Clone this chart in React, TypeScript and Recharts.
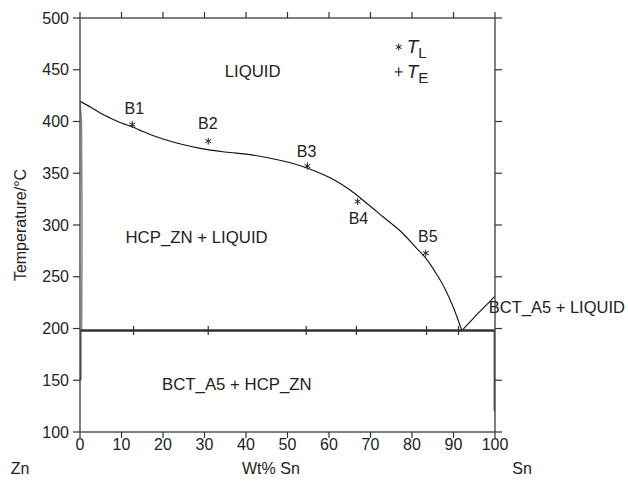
import React from "react";
import {
  ComposedChart,
  Line,
  XAxis,
  YAxis,
  ReferenceDot,
} from "recharts";

// Liquidus (Zn side) from pure Zn to eutectic
const liqZnX = [0, 2.5, 5, 7.5, 10, 12.9, 15, 20, 25, 29, 35, 41, 47, 53.3, 57, 61.3, 65, 69.4, 73, 77.5, 81, 83.5, 86, 88, 90, 92];
const liqZnT = [419.5, 414, 408, 403, 398.5, 394.5, 390.5, 383, 377.5, 374, 370.5, 368, 363.5, 357, 351.5, 343.5, 334, 320, 308, 293, 278, 267, 252, 238, 220, 198];
// Liquidus (Sn side)
const liqSnX = [92, 94, 96, 98, 100];
const liqSnT = [198, 206.5, 215, 223, 231.5];
// Solidus near Zn
const solZnX = [0, 0.35, 0.5, 0.45, 0.4];
const solZnT = [419.5, 400, 300, 250, 198];
const solZnLowX = [0.1, 0.1];
const solZnLowT = [198, 150];
// Eutectic isotherm
const eutX = [0, 100];
const eutT = [198, 198];
// Sn side solvus
const solSnX = [100, 100];
const solSnT = [198, 120];
// Measured liquidus temperatures (T_L)
const tlX = [12.6, 30.9, 54.8, 66.9, 83.3];
const tlT = [397, 381, 357, 322.7, 272.8];
// Measured eutectic temperatures (T_E)
const teX = [12.9, 30.9, 54.5, 66.6, 83.5, 91.2];
const teT = [198, 198, 198, 198, 198, 198];
// Sample labels
const sampleNames = ["B1", "B2", "B3", "B4", "B5"];
const sampleLabelX = [13.1, 30.8, 54.6, 67.1, 83.8];
const sampleLabelT = [413, 398, 371, 306.5, 289];
// Phase region labels
const phaseNames = ["LIQUID", "HCP_ZN + LIQUID", "BCT_A5 + HCP_ZN"];
const phaseX = [41.6, 28.1, 37.8];
const phaseT = [448, 288, 145.5];
const sideLabel = "BCT_A5 + LIQUID";
const sideX = 98.5;
const sideT = 221;
// Axis ticks
const xTicks = [0, 10, 20, 30, 40, 50, 60, 70, 80, 90, 100];
const yTicks = [100, 150, 200, 250, 300, 350, 400, 450, 500];
const legendX = 76.8;
const legendTL = 472;
const legendTE = 448;

const zip = (xs: number[], ts: number[]) => xs.map((x, i) => ({ x, t: ts[i] }));

const FONT = "'Liberation Sans', Arial, Helvetica, sans-serif";
const TXT = "#222";

const Star = ({ cx, cy }: any) => (
  <path
    d={`M${cx},${cy - 3.5}L${cx},${cy + 3.5}M${cx - 3},${cy - 1.8}L${cx + 3},${cy + 1.8}M${cx - 3},${cy + 1.8}L${cx + 3},${cy - 1.8}`}
    stroke="#222"
    strokeWidth={1}
    fill="none"
  />
);

const Plus = ({ cx, cy }: any) => (
  <path
    d={`M${cx},${cy - 4.5}L${cx},${cy + 4.5}M${cx - 4},${cy}L${cx + 4},${cy}`}
    stroke="#333"
    strokeWidth={1.2}
    fill="none"
  />
);

const makeText = (text: string, anchor: string = "middle", size = 16) => (p: any) => (
  <text
    x={p.cx}
    y={p.cy}
    textAnchor={anchor}
    dominantBaseline="central"
    fontFamily={FONT}
    fontSize={size}
    fill={TXT}
  >
    {text}
  </text>
);

const legendItem = (sub: string, marker: "star" | "plus") => (p: any) => (
  <g>
    {marker === "star" ? <Star cx={p.cx} cy={p.cy} /> : <Plus cx={p.cx} cy={p.cy} />}
    <text x={p.cx + 8} y={p.cy + 6} fontFamily={FONT} fill={TXT}>
      <tspan fontSize={19} fontStyle="italic">T</tspan>
      <tspan fontSize={15} dy={5}>{sub}</tspan>
    </text>
  </g>
);

const XLabel = (props: any) => {
  const vb = props.viewBox;
  const y = vb.y + 42;
  return (
    <g fontFamily={FONT} fontSize={16} fill={TXT}>
      <text x={vb.x - 60} y={y} textAnchor="middle" fill={TXT}>Zn</text>
      <text x={vb.x + vb.width * 0.46} y={y} textAnchor="middle" fill={TXT}>Wt% Sn</text>
      <text x={vb.x + vb.width + 27} y={y} textAnchor="middle" fill={TXT}>Sn</text>
    </g>
  );
};

const YLabel = (props: any) => {
  const vb = props.viewBox;
  const cx = 20;
  const cy = vb.y + vb.height / 2;
  return (
    <text
      x={cx}
      y={cy}
      transform={`rotate(-90 ${cx} ${cy})`}
      textAnchor="middle"
      dominantBaseline="central"
      fontFamily={FONT}
      fontSize={16}
      fill={TXT}
    >
      Temperature/°C
    </text>
  );
};

const axisStroke = { stroke: "#555", strokeWidth: 1.5 };
const tickStyle = { fontFamily: FONT, fontSize: 16, fill: TXT };

export default function App() {
  return (
    <div style={{ position: "absolute", left: 0, top: 0, background: "#fff" }}>
      <ComposedChart
        width={628}
        height={486}
        margin={{ top: 12, right: 125, bottom: 14, left: 20 }}
      >
        <XAxis
          xAxisId="b"
          dataKey="x"
          type="number"
          domain={[0, 100]}
          ticks={xTicks}
          interval={0}
          orientation="bottom"
          height={40}
          tickSize={6}
          tickMargin={1}
          axisLine={axisStroke}
          tickLine={{ stroke: "#333", strokeWidth: 1.2 }}
          tick={tickStyle}
          label={<XLabel />}
          allowDataOverflow
        />
        <XAxis
          xAxisId="t"
          dataKey="x"
          type="number"
          domain={[0, 100]}
          ticks={xTicks}
          interval={0}
          orientation="top"
          height={6}
          tickSize={6}
          axisLine={axisStroke}
          tickLine={{ stroke: "#333", strokeWidth: 1.2 }}
          tickFormatter={() => ""}
          allowDataOverflow
        />
        <YAxis
          yAxisId="l"
          type="number"
          domain={[100, 500]}
          ticks={yTicks}
          interval={0}
          orientation="left"
          width={60}
          tickSize={7}
          tickMargin={4}
          axisLine={axisStroke}
          tickLine={{ stroke: "#333", strokeWidth: 1.2 }}
          tick={tickStyle}
          label={<YLabel />}
          allowDataOverflow
        />
        <YAxis
          yAxisId="r"
          type="number"
          domain={[100, 500]}
          ticks={yTicks}
          interval={0}
          orientation="right"
          width={8}
          tickSize={7}
          axisLine={axisStroke}
          tickLine={{ stroke: "#333", strokeWidth: 1.2 }}
          tickFormatter={() => ""}
          allowDataOverflow
        />

        <Line xAxisId="b" yAxisId="l" data={zip(solZnX, solZnT)} dataKey="t" type="linear" stroke="#888" strokeWidth={1.5} dot={false} isAnimationActive={false} />
        <Line xAxisId="b" yAxisId="l" data={zip(solZnLowX, solZnLowT)} dataKey="t" type="linear" stroke="#222" strokeWidth={2} dot={false} isAnimationActive={false} />
        <Line xAxisId="b" yAxisId="l" data={zip(liqZnX, liqZnT)} dataKey="t" type="monotone" stroke="#111" strokeWidth={1.1} dot={false} isAnimationActive={false} />
        <Line xAxisId="b" yAxisId="l" data={zip(liqSnX, liqSnT)} dataKey="t" type="monotone" stroke="#111" strokeWidth={1.1} dot={false} isAnimationActive={false} />
        <Line xAxisId="b" yAxisId="l" data={zip(eutX, eutT)} dataKey="t" type="linear" stroke="#333" strokeWidth={2.6} dot={false} isAnimationActive={false} />
        <Line xAxisId="b" yAxisId="l" data={zip(solSnX, solSnT)} dataKey="t" type="linear" stroke="#222" strokeWidth={2.6} dot={false} isAnimationActive={false} />

        {tlX.map((x, i) => (
          <ReferenceDot key={"tl" + i} xAxisId="b" yAxisId="l" x={x} y={tlT[i]} r={0} shape={Star} />
        ))}
        {teX.map((x, i) => (
          <ReferenceDot key={"te" + i} xAxisId="b" yAxisId="l" x={x} y={teT[i]} r={0} shape={Plus} />
        ))}
        {sampleNames.map((n, i) => (
          <ReferenceDot key={"sn" + i} xAxisId="b" yAxisId="l" x={sampleLabelX[i]} y={sampleLabelT[i]} r={0} shape={makeText(n)} />
        ))}
        {phaseNames.map((n, i) => (
          <ReferenceDot key={"ph" + i} xAxisId="b" yAxisId="l" x={phaseX[i]} y={phaseT[i]} r={0} shape={makeText(n, "middle", 16.8)} />
        ))}
        <ReferenceDot xAxisId="b" yAxisId="l" x={sideX} y={sideT} r={0} shape={makeText(sideLabel, "start", 16.5)} />
        <ReferenceDot xAxisId="b" yAxisId="l" x={legendX} y={legendTL} r={0} shape={legendItem("L", "star")} />
        <ReferenceDot xAxisId="b" yAxisId="l" x={legendX} y={legendTE} r={0} shape={legendItem("E", "plus")} />
      </ComposedChart>
    </div>
  );
}
